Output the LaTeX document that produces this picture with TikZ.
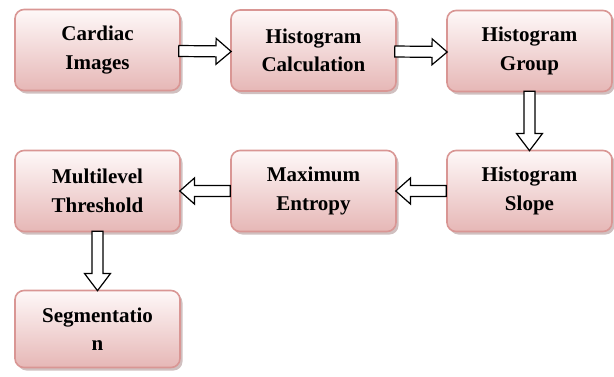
\documentclass[tikz,border=0pt]{standalone}
\usepackage{fontspec}
\setmainfont{Liberation Serif}
\usetikzlibrary{calc,shadows}
\definecolor{boxline}{RGB}{217,150,148}
\definecolor{boxtop}{RGB}{254,248,248}
\definecolor{boxbot}{RGB}{230,183,182}
\definecolor{boxshadow}{RGB}{170,140,140}
\tikzset{
  procbox/.style={rectangle, rounded corners=9pt, draw=boxline, line width=1.6pt,
    top color=boxtop, bottom color=boxbot,
    drop shadow={shadow xshift=2.5pt, shadow yshift=-3pt, fill=boxshadow, opacity=0.55},
    minimum width=165pt, minimum height=81pt, inner sep=2pt,
    align=center, font=\fontsize{21}{28.5}\selectfont\bfseries, text=black},
  blockarrow/.style={draw=black, fill=white, line width=1.2pt, line join=miter}
}
\newcommand\blockarr[2]{%
  \coordinate (hb) at ($(#1)!0.71!(#2)$);
  \draw[blockarrow] ($(#1)!5.5pt!90:(#2)$) -- ($(hb)!5.5pt!90:(#2)$)
    -- ($(hb)!13pt!90:(#2)$) -- (#2) -- ($(hb)!13pt!-90:(#2)$)
    -- ($(hb)!5.5pt!-90:(#2)$) -- ($(#1)!5.5pt!-90:(#2)$) -- cycle;}
\begin{document}
\begin{tikzpicture}[x=1pt,y=-1pt]
\useasboundingbox (0,0) rectangle (614,376);
\node[procbox] (b1) at (97.5,50) {Cardiac\\Images};
\node[procbox] (b2) at (313.5,50.5) {Histogram\\Calculation};
\node[procbox] (b3) at (529.5,51) {Histogram\\Group};
\node[procbox] (b4) at (529.5,191) {Histogram\\Slope};
\node[procbox] (b5) at (313.5,191) {Maximum\\Entropy};
\node[procbox] (b6) at (97.5,191) {Multilevel\\Threshold};
\node[procbox, minimum height=77pt] (b7) at (97.5,329) {Segmentatio\\n};
\blockarr{[xshift=-2pt,yshift=-1pt]b1.east}{[xshift=1pt,yshift=-1pt]b2.west}
\blockarr{[xshift=-2pt,yshift=-1pt]b2.east}{[xshift=1pt,yshift=-1pt]b3.west}
\blockarr{[yshift=1pt]b3.south}{[yshift=-1pt]b4.north}
\blockarr{b4.west}{[xshift=-1pt]b5.east}
\blockarr{b5.west}{[xshift=-1pt]b6.east}
\blockarr{[yshift=1pt]b6.south}{[yshift=-1pt]b7.north}
\end{tikzpicture}
\end{document}
